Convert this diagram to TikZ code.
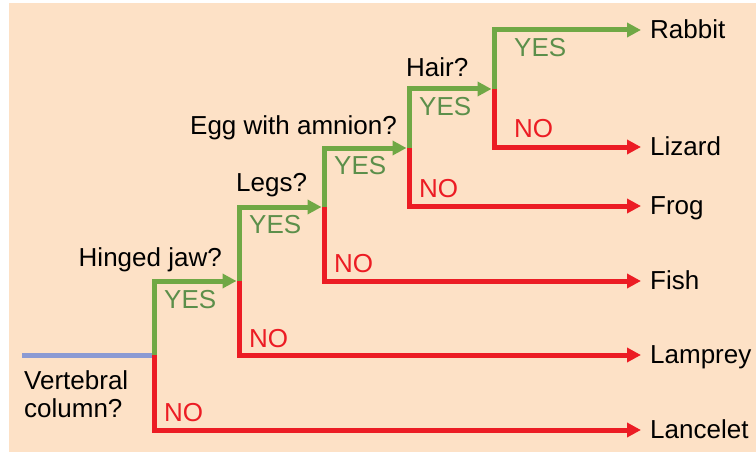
\documentclass[tikz,border=0pt]{standalone}
\usepackage{fontspec}
\setmainfont{Liberation Sans}
\usetikzlibrary{arrows.meta}
\definecolor{peach}{HTML}{FDE1C6}
\definecolor{yesgreen}{HTML}{70A845}
\definecolor{yestext}{HTML}{5C8F4A}
\definecolor{nored}{HTML}{EC1C24}
\definecolor{spineblue}{HTML}{8B9AD3}

\begin{document}
\begin{tikzpicture}[x=1pt,y=-1pt,
  every node/.style={font=\fontsize{26}{28}\selectfont, inner sep=0pt},
  branch/.style={line width=5pt},
  yesline/.style={branch, yesgreen, -{Triangle[length=14pt,width=14pt]}, shorten >=2.5pt},
  noline/.style={branch, nored, -{Triangle[length=14pt,width=14pt]}},
  taxon/.style={anchor=west, inner xsep=9pt, text height=17pt, text depth=0pt},
  question/.style={text=black},
  yeslabel/.style={anchor=base west, text=yestext},
  nolabel/.style={anchor=base west, text=nored}]
\useasboundingbox (0,0) rectangle (756,452);
\fill[peach] (9,3) rectangle (756,452);

% junctions
\coordinate (start) at (22,355);
\coordinate (vc) at (154,355);
\coordinate (jaw) at (239,281);
\coordinate (legs) at (324,207);
\coordinate (egg) at (409,148);
\coordinate (hair) at (494,89);

% taxa
\node[taxon] (rabbit) at (641,30) {Rabbit};
\node[taxon] (lizard) at (641,147) {Lizard};
\node[taxon] (frog) at (641,206) {Frog};
\node[taxon] (fish) at (641,281) {Fish};
\node[taxon] (lamprey) at (641,355) {Lamprey};
\node[taxon] (lancelet) at (641,430) {Lancelet};

% questions
\node[question, anchor=north west, align=left] (qvc) at (24,370) {Vertebral\\column?};
\node[question, anchor=base east] (qjaw) at (222,266) {Hinged jaw?};
\node[question, anchor=base west] (qlegs) at (236,191) {Legs?};
\node[question, anchor=base west] (qegg) at (190,135) {Egg with amnion?};
\node[question, anchor=base west] (qhair) at (406,77) {Hair?};

% branches
\draw[branch, spineblue] (start) -- (vc);
\draw[yesline] (vc) |- (jaw);
\draw[yesline] (jaw) |- (legs);
\draw[yesline] (legs) |- (egg);
\draw[yesline] (egg) |- (hair);
\draw[yesline, shorten >=0pt] (hair) |- (rabbit.west);
\draw[noline] (hair) |- (lizard.west);
\draw[noline] (egg) |- (frog.west);
\draw[noline] (legs) |- (fish.west);
\draw[noline] (jaw) |- (lamprey.west);
\draw[noline] (vc) |- (lancelet.west);

% answers
\node[yeslabel] (yjaw) at (164,308) {YES};
\node[yeslabel] (ylegs) at (249,233) {YES};
\node[yeslabel] (yegg) at (334,175) {YES};
\node[yeslabel] (yhair) at (419,116) {YES};
\node[yeslabel] (yrabbit) at (514,57) {YES};
\node[nolabel] (nvc) at (164,421) {NO};
\node[nolabel] (njaw) at (249,347) {NO};
\node[nolabel] (nlegs) at (334,272) {NO};
\node[nolabel] (negg) at (419,197) {NO};
\node[nolabel] (nhair) at (514,138) {NO};
\end{tikzpicture}
\end{document}
